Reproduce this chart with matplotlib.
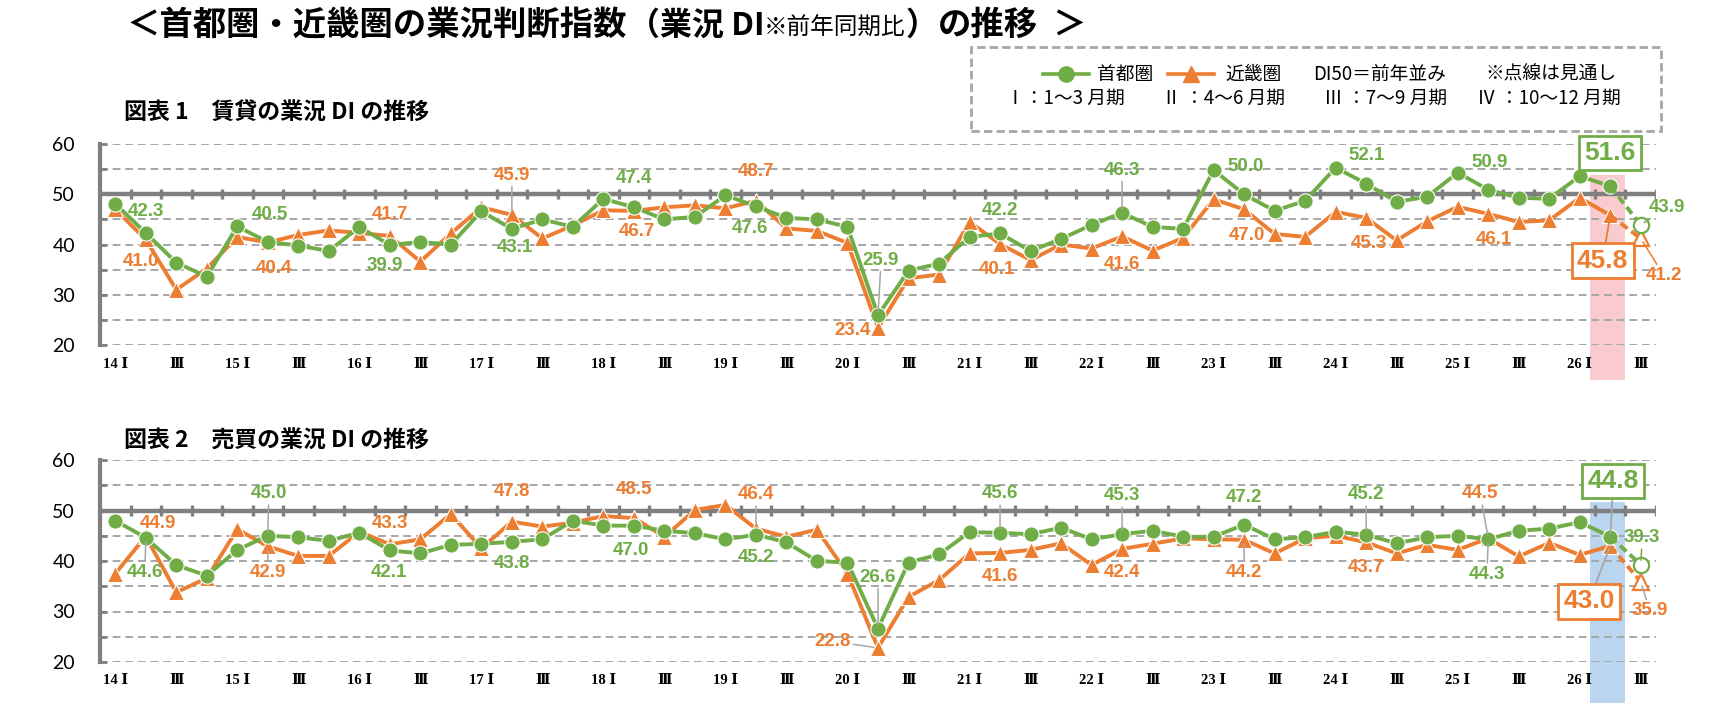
import matplotlib
matplotlib.use("Agg")
import numpy as np
import matplotlib.pyplot as plt
from matplotlib.patches import Rectangle
from matplotlib.lines import Line2D

plt.rcParams['font.family'] = ['Noto Sans CJK JP', 'DejaVu Sans']

# quarters 2014 Q1 .. 2026 Q3 (last one is the outlook)
years = list(range(14, 27))
n_points = 51
tick_labels = []
for i in range(n_points):
    if i % 4 == 0:
        tick_labels.append(f"{years[i // 4]} Ⅰ")
    elif i % 4 == 2:
        tick_labels.append("Ⅲ")
    else:
        tick_labels.append("")

# 図表1 賃貸
rent_tokyo = [48.1, 42.3, 36.4, 33.6, 43.6, 40.5, 39.8, 38.7, 43.5, 39.9,
              40.5, 40.0, 46.6, 43.1, 45.0, 43.5, 49.1, 47.4, 45.0, 45.5,
              49.8, 47.6, 45.3, 45.0, 43.5, 25.9, 34.8, 36.2, 41.5, 42.2,
              38.7, 41.1, 43.9, 46.3, 43.5, 43.1, 54.8, 50.0, 46.7, 48.7,
              55.3, 52.1, 48.5, 49.5, 54.3, 50.9, 49.3, 49.1, 53.6, 51.6,
              43.9]
rent_kinki = [47.0, 41.0, 31.0, 35.2, 41.5, 40.4, 41.9, 42.8, 42.3, 41.7,
              36.6, 42.2, 47.4, 45.9, 41.2, 43.8, 46.8, 46.7, 47.4, 47.8,
              47.2, 48.7, 43.2, 42.7, 40.3, 23.4, 33.3, 34.0, 44.5, 40.1,
              36.9, 40.0, 39.2, 41.6, 38.8, 41.3, 49.0, 47.0, 42.1, 41.5,
              46.5, 45.3, 40.8, 44.6, 47.5, 46.1, 44.5, 44.8, 49.3, 45.8,
              41.2]

# 図表2 売買
sale_tokyo = [48.0, 44.6, 39.2, 37.1, 42.2, 45.0, 44.7, 44.0, 45.6, 42.1,
              41.5, 43.2, 43.4, 43.8, 44.3, 48.0, 47.0, 47.0, 46.0, 45.5,
              44.3, 45.2, 43.7, 40.0, 39.7, 26.6, 39.7, 41.3, 45.7, 45.6,
              45.3, 46.6, 44.3, 45.3, 46.0, 44.8, 44.8, 47.2, 44.3, 44.7,
              45.8, 45.2, 43.5, 44.7, 45.0, 44.3, 46.0, 46.4, 47.7, 44.8,
              39.3]
sale_kinki = [37.5, 44.9, 33.8, 36.6, 46.3, 42.9, 41.0, 41.0, 45.8, 43.3,
              44.3, 49.3, 42.5, 47.8, 46.8, 47.6, 48.9, 48.5, 44.8, 50.1,
              51.1, 46.4, 44.8, 46.2, 37.5, 22.8, 32.9, 36.2, 41.5, 41.6,
              42.2, 43.5, 39.2, 42.4, 43.4, 44.5, 44.3, 44.2, 41.5, 44.5,
              45.0, 43.7, 41.5, 43.2, 42.2, 44.5, 40.9, 43.6, 41.2, 43.0,
              35.9]

GREEN = '#70ad47'
ORANGE = '#ed7d31'
GREY = '#a6a6a6'
AXIS = '#7f7f7f'
NUMFONT = ['Liberation Sans', 'DejaVu Sans']

# label placement: (series, index, label x, label y, leader colour)
rent_labels = [
    ('t', 1, 1.02, 46.5, None), ('k', 1, 0.85, 36.6, None),
    ('t', 5, 5.06, 46.0, None), ('k', 5, 5.2, 35.2, None),
    ('k', 9, 9.0, 46.0, None), ('t', 9, 8.85, 35.9, None),
    ('k', 13, 13.0, 53.8, GREY), ('t', 13, 13.1, 39.5, None),
    ('t', 17, 17.0, 53.1, None), ('k', 17, 17.1, 42.5, None),
    ('k', 21, 21.0, 54.6, None), ('t', 21, 20.8, 43.2, None),
    ('t', 25, 25.1, 36.9, GREY), ('k', 25, 24.15, 22.8, None),
    ('t', 29, 29.0, 46.7, None), ('k', 29, 28.9, 35.1, None),
    ('t', 33, 33.0, 54.8, GREY), ('k', 33, 33.0, 36.0, None),
    ('t', 37, 37.05, 55.5, None), ('k', 37, 37.1, 41.8, None),
    ('t', 41, 41.0, 57.8, None), ('k', 41, 41.1, 40.1, None),
    ('t', 45, 45.05, 56.3, None), ('k', 45, 45.2, 40.9, None),
    ('t', 50, 50.86, 47.4, GREEN), ('k', 50, 50.76, 33.8, ORANGE),
]
rent_boxes = [('t', 49, 49.0, 58.2, None), ('k', 49, 48.75, 36.8, ORANGE)]

sale_labels = [
    ('k', 1, 1.4, 47.5, None), ('t', 1, 0.97, 37.7, GREY),
    ('t', 5, 5.03, 53.3, GREY), ('k', 5, 5.0, 37.7, GREY),
    ('k', 9, 9.0, 47.5, None), ('t', 9, 8.96, 37.7, None),
    ('k', 13, 13.0, 53.8, None), ('t', 13, 13.0, 39.5, None),
    ('k', 17, 17.0, 54.2, None), ('t', 17, 16.9, 42.0, None),
    ('k', 21, 21.0, 53.1, GREY), ('t', 21, 21.0, 40.7, None),
    ('t', 25, 25.0, 36.8, GREY), ('k', 25, 23.5, 24.1, GREY),
    ('t', 29, 29.0, 53.3, GREY), ('k', 29, 29.0, 36.9, None),
    ('t', 33, 33.0, 52.9, GREY), ('k', 33, 33.0, 37.7, None),
    ('t', 37, 37.0, 52.6, None), ('k', 37, 37.0, 37.7, GREY),
    ('t', 41, 41.0, 53.1, GREY), ('k', 41, 41.0, 38.7, None),
    ('k', 45, 44.74, 53.3, GREY), ('t', 45, 44.96, 37.4, GREY),
    ('t', 50, 50.05, 44.6, GREEN), ('k', 50, 50.3, 30.1, GREY),
]
sale_boxes = [('t', 49, 49.1, 55.8, GREY), ('k', 49, 48.3, 32.0, GREY)]

W, H = 1715, 719
fig = plt.figure(figsize=(W / 100, H / 100), dpi=100)


def draw_panel(ax, tokyo, kinki, labels, boxes, band_color, band_y0, band_y1):
    x = np.arange(n_points)
    ax.set_xlim(-0.5, n_points - 0.5)
    ax.set_ylim(20, 60)
    for s in ['top', 'right', 'bottom']:
        ax.spines[s].set_visible(False)
    ax.spines['left'].set_color(AXIS)
    ax.spines['left'].set_linewidth(3)

    for gy in range(20, 61, 5):
        if gy != 50:
            ax.axhline(gy, color=GREY, lw=1.4, ls=(0, (4, 2.5)), zorder=1)
    ax.axhline(50, color=AXIS, lw=3.2, zorder=2)
    ax.vlines(np.arange(0.5, n_points, 1), 49, 51, color=AXIS, lw=2.4, zorder=2)

    ax.add_patch(Rectangle((n_points - 2.65, band_y0), 1.15, band_y1 - band_y0,
                           facecolor=band_color, edgecolor='none', zorder=0, clip_on=False))

    for vals, col, mk, ms, z in [(kinki, ORANGE, '^', 12, 3), (tokyo, GREEN, 'o', 11, 4)]:
        ax.plot(x[:-1], vals[:-1], color=col, lw=2.8, marker=mk, ms=ms,
                mec='white', mew=0.8, zorder=z)
        ax.plot(x[-2:], vals[-2:], color=col, lw=2.8, ls=(0, (2.2, 1.2)), zorder=z)
        ax.plot(x[-1:], vals[-1:], ls='none', marker=mk, ms=ms, mfc='white',
                mec=col, mew=1.6, zorder=z + 0.5)

    ax.set_yticks(range(20, 61, 5), ['20', '', '30', '', '40', '', '50', '', '60'],
                  fontfamily=['Lato', 'DejaVu Sans'])
    ax.tick_params(axis='y', direction='in', length=5, width=2, color=AXIS,
                   pad=18, labelsize=14)
    ax.set_xticks(x, tick_labels, fontfamily=['Liberation Serif', 'DejaVu Serif', 'DejaVu Sans'],
                  fontweight='bold')
    ax.tick_params(axis='x', length=0, pad=9, labelsize=10.5)

    series = {'t': (tokyo, GREEN), 'k': (kinki, ORANGE)}
    for s, i, lx, ly, lead in labels:
        vals, col = series[s]
        txt = f"{vals[i]:.1f}"
        if lead is None:
            ax.text(lx, ly, txt, ha='center', va='center', color=col, fontsize=13.5,
                    fontweight='bold', fontfamily=NUMFONT, zorder=6)
        else:
            ax.annotate(txt, xy=(i, vals[i]), xytext=(lx, ly), ha='center', va='center',
                        color=col, fontsize=13.5, fontweight='bold', fontfamily=NUMFONT,
                        arrowprops=dict(arrowstyle='-', color=lead, lw=1.1,
                                        shrinkA=0, shrinkB=3), zorder=6)
    for s, i, lx, ly, lead in boxes:
        vals, col = series[s]
        kw = dict(ha='center', va='center', color=col, fontsize=19, fontweight='bold',
                  fontfamily=NUMFONT, zorder=7,
                  bbox=dict(boxstyle='square,pad=0.2', fc='white', ec=col, lw=2))
        if lead is None:
            ax.text(lx, ly, f"{vals[i]:.1f}", **kw)
        else:
            ax.annotate(f"{vals[i]:.1f}", xy=(i, vals[i]), xytext=(lx, ly),
                        arrowprops=dict(arrowstyle='-', color=lead, lw=1.3,
                                        shrinkA=0, shrinkB=2), **kw)


ax1 = fig.add_axes([100 / W, 1 - 345 / H, 1556 / W, 201 / H])
draw_panel(ax1, rent_tokyo, rent_kinki, rent_labels, rent_boxes, '#f9cbcf', 13.0, 53.8)
ax2 = fig.add_axes([100 / W, 1 - 662 / H, 1556 / W, 202 / H])
draw_panel(ax2, sale_tokyo, sale_kinki, sale_labels, sale_boxes, '#b9d5ef', 11.9, 51.7)

# title, built from pieces of different sizes on one baseline
renderer = fig.canvas.get_renderer()
pieces = [("＜首都圏・近畿圏の業況判断指数", 24, 'bold'),
          ("（業況 DI", 23, 'bold'),
          ("※前年同期比", 17, 'normal'),
          ("）", 23, 'bold'),
          ("の推移", 24, 'bold'),
          ("  ＞", 24, 'bold')]
px = 127 / W
for txt, size, weight in pieces:
    t = fig.text(px, 1 - 35 / H, txt, fontsize=size, fontweight=weight, va='baseline', ha='left')
    px += t.get_window_extent(renderer).width / fig.bbox.width

fig.text(124 / W, 1 - 113 / H, "図表 1　賃貸の業況 DI の推移", fontsize=16.5, fontweight='bold', va='center')
fig.text(124 / W, 1 - 441 / H, "図表 2　売買の業況 DI の推移", fontsize=16.5, fontweight='bold', va='center')

# legend box
fig.add_artist(Rectangle((971 / W, 1 - 131 / H), 690 / W, 84 / H, transform=fig.transFigure,
                         fill=False, edgecolor=GREY, lw=2, ls=(0, (3, 1.5))))
ly1 = 1 - 74 / H
ly2 = 1 - 98 / H
for x0, x1, col, mk in [(1043, 1089, GREEN, 'o'), (1168, 1214, ORANGE, '^')]:
    fig.add_artist(Line2D([x0 / W, (x0 + x1) / 2 / W, x1 / W], [ly1, ly1, ly1],
                          transform=fig.transFigure, color=col, lw=2.6, marker=mk,
                          ms=11, markevery=[1]))
fig.text(1097 / W, ly1, "首都圏", fontsize=13.5, va='center')
fig.text(1225 / W, ly1, "近畿圏", fontsize=13.5, va='center')
fig.text(1313 / W, ly1, "DI50＝前年並み", fontsize=13.5, va='center')
fig.text(1485 / W, ly1, "※点線は見通し", fontsize=13.5, va='center')
fig.text(1006 / W, ly2, "Ⅰ：1～3 月期", fontsize=13.5, va='center')
fig.text(1162 / W, ly2, "Ⅱ ：4～6 月期", fontsize=13.5, va='center')
fig.text(1324 / W, ly2, "Ⅲ ：7～9 月期", fontsize=13.5, va='center')
fig.text(1477 / W, ly2, "Ⅳ ：10～12 月期", fontsize=13.5, va='center')

fig.savefig("out.png", dpi=100)
